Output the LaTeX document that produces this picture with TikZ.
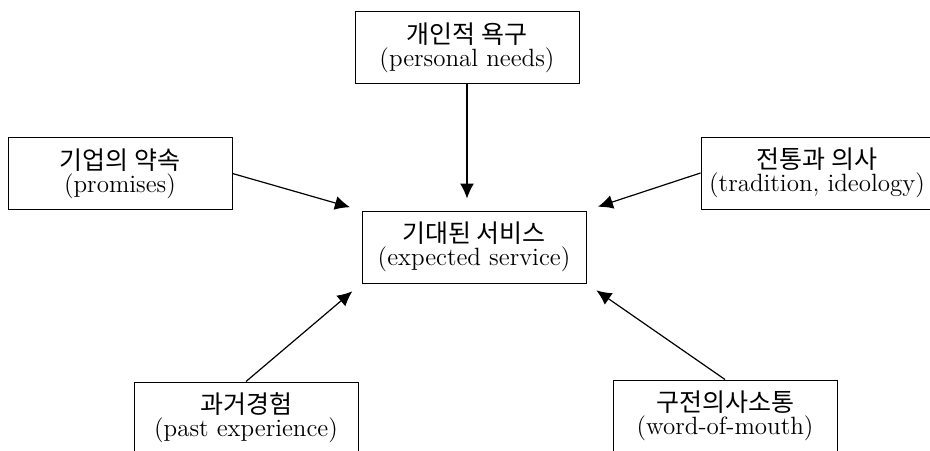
\documentclass[tikz,border=0pt]{standalone}
\usepackage{fontspec}
\newfontfamily\kr{Noto Sans CJK KR}
\usetikzlibrary{arrows.meta}

\begin{document}
\begin{tikzpicture}[x=0.5pt,y=-0.5pt,align=center,
font=\fontsize{12.5}{11.5}\selectfont,
blok/.style={draw,line width=0.5pt,minimum width=112pt,minimum height=36pt,inner sep=0pt},
freccia/.style={-{Latex[length=7.5pt,width=7pt]},line width=0.6pt,shorten >=6pt}
]
\useasboundingbox (0,0) rectangle (930,450);
\clip (0,0) rectangle (930,450);
%--
\node[blok](servizio) at (474,247){{\kr 기대된 서비스}\\(expected service)};
%--
\node[blok](bisogni) at (467,47.5){{\kr 개인적 욕구}\\(personal needs)};
\draw [freccia] (bisogni.south) -- (bisogni.south |- servizio.north);
%--
\node[blok](promesse) at (120,173.5){{\kr 기업의 약속}\\(promises)};
\draw [freccia] (promesse.east) -- (servizio.north west);
\node[blok,minimum width=116pt](tradizione) at (817,173){{\kr 전통과 의사}\\(tradition, ideology)};
\draw [freccia] (tradizione.west) -- (servizio.north east);
%--
\node[blok](passato) at (246,418){{\kr 과거경험}\\(past experience)};
\draw [freccia] (passato.north) -- (servizio.south west);
\node[blok](passaparola) at (725,416){{\kr 구전의사소통}\\(word-of-mouth)};
\draw [freccia] (passaparola.north) -- (servizio.south east);
\end{tikzpicture}
\end{document}
